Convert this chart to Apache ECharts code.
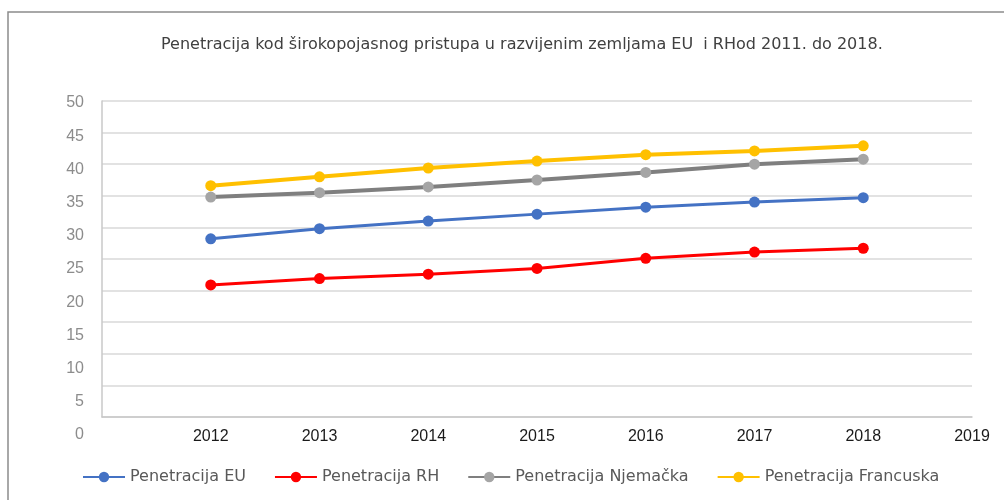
<!DOCTYPE html>
<html>
<head>
<meta charset="utf-8">
<script src="https://cdn.jsdelivr.net/npm/echarts@6/dist/echarts.min.js"></script>
<style>
  html, body { margin: 0; padding: 0; background: #fff; }
  #chart { width: 1004px; height: 500px; }
</style>
</head>
<body>
<div id="chart"></div>
<script>
// Broadband penetration, EU vs. Croatia (RH), Germany and France
const years = [2012, 2013, 2014, 2015, 2016, 2017, 2018];
const euValues = [28.2, 29.8, 31.0, 32.1, 33.2, 34.0, 34.7];
const rhValues = [20.9, 21.9, 22.6, 23.5, 25.1, 26.1, 26.7];
const deValues = [34.8, 35.5, 36.4, 37.5, 38.7, 40.0, 40.8];
const frValues = [36.6, 38.0, 39.4, 40.5, 41.5, 42.1, 42.9];
const seriesNames = ['Penetracija EU', 'Penetracija RH', 'Penetracija Njemačka', 'Penetracija Francuska'];
const titleText = 'Penetracija kod širokopojasnog pristupa u razvijenim zemljama EU  i RHod 2011. do 2018.';

const pairs = vals => years.map((y, i) => [y, vals[i]]);

function lineSeries(name, vals, lineColor, markColor, width) {
  return {
    name: name,
    type: 'line',
    xAxisIndex: 0,
    yAxisIndex: 0,
    data: pairs(vals),
    symbol: 'circle',
    symbolSize: 11,
    lineStyle: { color: lineColor, width: width },
    itemStyle: { color: markColor },
    emphasis: { disabled: true },
    animation: false
  };
}

const chart = echarts.init(document.getElementById('chart'), null, { renderer: 'canvas' });
chart.setOption({
  backgroundColor: '#fff',
  animation: false,
  title: {
    text: titleText,
    left: 156,
    top: 32,
    textStyle: { fontFamily: 'DejaVu Sans', fontSize: 16, fontWeight: 'normal', color: '#404040' }
  },
  legend: {
    bottom: 10,
    left: 77,
    itemWidth: 42,
    itemHeight: 13,
    itemGap: 28,
    textStyle: { fontFamily: 'DejaVu Sans', fontSize: 16, color: '#595959' },
    data: seriesNames
  },
  graphic: [{
    type: 'rect',
    shape: { x: 8, y: 12, width: 1100, height: 600 },
    style: { fill: 'none', stroke: '#8c8c8c', lineWidth: 1.5 },
    silent: true
  }],
  grid: [
    { left: 102, right: 32, top: 101, bottom: 83 },
    { left: 102, right: 32, top: 103, bottom: 65 }
  ],
  xAxis: [{
    gridIndex: 0,
    type: 'value',
    min: 2011,
    max: 2019,
    interval: 1,
    axisLine: { show: true, lineStyle: { color: '#c8c8c8', width: 1.5 } },
    axisTick: { show: false },
    splitLine: { show: false },
    axisLabel: {
      margin: 12,
      fontFamily: 'Liberation Sans',
      fontSize: 16,
      color: '#1a1a1a',
      formatter: v => (v === 2011 ? '' : String(v))
    }
  }, {
    gridIndex: 1,
    type: 'value',
    min: 2011,
    max: 2019,
    show: false
  }],
  yAxis: [{
    gridIndex: 0,
    type: 'value',
    min: 0,
    max: 50,
    interval: 5,
    axisLine: { show: true, lineStyle: { color: '#c8c8c8', width: 1.5 } },
    axisTick: { show: false },
    axisLabel: { show: false },
    splitLine: { lineStyle: { color: '#d9d9d9', width: 1.5 } }
  }, {
    gridIndex: 1,
    type: 'value',
    min: 0,
    max: 50,
    interval: 5,
    axisLine: { show: false },
    axisTick: { show: false },
    splitLine: { show: false },
    axisLabel: { margin: 18, fontFamily: 'Liberation Sans', fontSize: 16, color: '#8c8c8c' }
  }],
  series: [
    lineSeries(seriesNames[0], euValues, '#4472C4', '#4472C4', 3),
    lineSeries(seriesNames[1], rhValues, '#FF0000', '#FF0000', 3),
    lineSeries(seriesNames[2], deValues, '#7f7f7f', '#A5A5A5', 4),
    lineSeries(seriesNames[3], frValues, '#FFC000', '#FFC000', 4)
  ]
});
</script>
</body>
</html>
